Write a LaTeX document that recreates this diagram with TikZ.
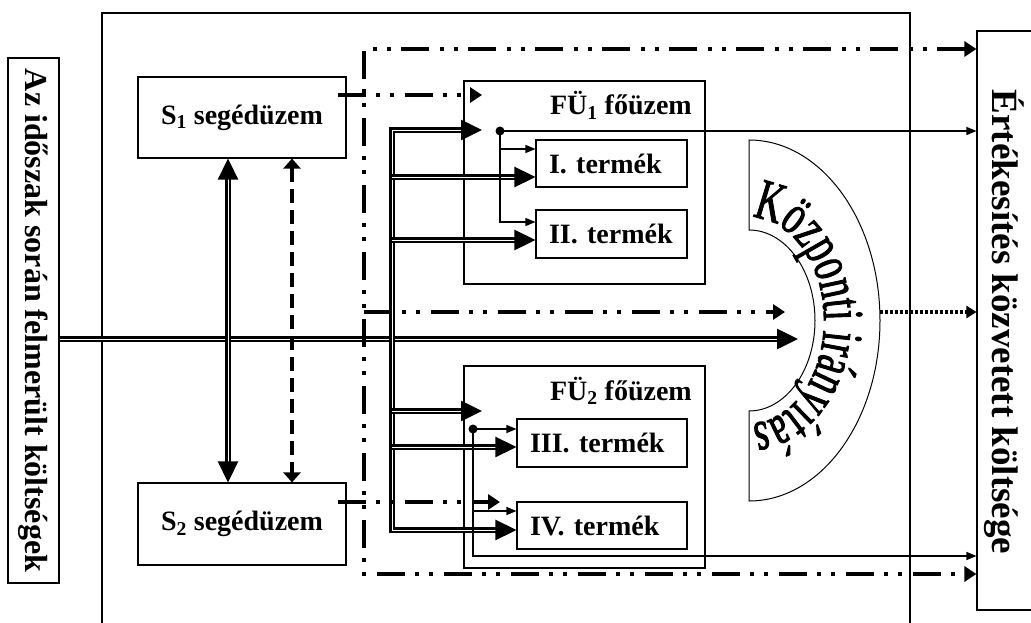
\documentclass[tikz,border=0pt]{standalone}
\usepackage{fontspec}
\setmainfont{Liberation Serif}
\newfontfamily\arcfam[FakeStretch=0.64,FakeBold=1.5]{Liberation Serif}
\usetikzlibrary{arrows.meta,decorations.text,calc}
\newcommand\boxfnt{\bfseries\fontsize{28}{32}\selectfont}
\newcommand\leftfnt{\bfseries\fontsize{32}{36}\selectfont}
\newcommand\rightfnt{\bfseries\fontsize{37}{40}\selectfont}
\newcommand\arcfnt{\arcfam\fontsize{58}{62}\selectfont}
\tikzset{
  BigT/.tip={Triangle[length=21pt,width=20pt]},
  DdT/.tip={Triangle[length=12pt,width=15pt]},
  DshT/.tip={Triangle[length=10pt,width=17pt]},
  SmT/.tip={Triangle[length=10pt,width=8pt]},
  DotT/.tip={Triangle[length=10pt,width=12pt]},
  frame/.style={draw, line width=1.1pt},
  box/.style={draw, line width=1.1pt, inner sep=0pt, font=\boxfnt},
  tbox/.style={box, minimum height=47pt, align=left},
  dbl/.style={line width=2.6pt, double=white, double distance=0.8pt},
  ddot/.style={line width=4pt, dash pattern=on 28pt off 10pt on 4pt off 10pt on 4pt off 11pt},
  dsh/.style={line width=4pt, dash pattern=on 14pt off 7pt},
  dtt/.style={line width=4pt, dash pattern=on 3pt off 2pt},
  thinln/.style={line width=1.3pt},
  jdot/.style={circle, fill, inner sep=0pt, minimum size=9pt},
}
\begin{document}
\begin{tikzpicture}[x=1pt,y=-1pt]
\useasboundingbox (0,0) rectangle (1031,623);
\fill[white] (0,0) rectangle (1031,623);
\clip (0,0) rectangle (1031,623);

% outer frame
\draw[frame] (102,13) rectangle (910,640);

% left box
\node[box, font=\leftfnt, rotate=-90, minimum width=525pt, minimum height=51pt] (lb) at (33.5,320.5) {Az időszak során felmerült költségek};

% right box
\node[frame, minimum width=90pt, minimum height=579pt, inner sep=0pt] (rb) at (1022,320.5) {};
\node[font=\rightfnt, rotate=-90, inner sep=0pt] (rbt) at (1004,322) {Értékesítés közvetett költsége};

% auxiliary plants
\node[box, minimum width=208pt, minimum height=81pt] (s1) at (242,117.5) {S\textsubscript{1} segédüzem};
\node[box, minimum width=208pt, minimum height=82pt] (s2) at (242,524) {S\textsubscript{2} segédüzem};

% main plants
\node[box, minimum width=241pt, minimum height=203pt] (f1) at (584.5,182.5) {};
\node[font=\boxfnt, anchor=base east, inner sep=0pt] (f1t) at (692,115) {FÜ\textsubscript{1} főüzem};
\node[box, minimum width=241pt, minimum height=202pt] (f2) at (584.5,467) {};
\node[font=\boxfnt, anchor=base east, inner sep=0pt] (f2t) at (692,400) {FÜ\textsubscript{2} főüzem};

% products
\node[tbox, minimum width=151pt, text width=125pt] (t1) at (611.5,163.5) {I. termék};
\node[tbox, minimum width=151pt, text width=125pt, minimum height=48pt] (t2) at (611.5,234) {II. termék};
\node[tbox, minimum width=170pt, text width=144pt, minimum height=48pt] (t3) at (602,443) {III. termék};
\node[tbox, minimum width=170pt, text width=144pt] (t4) at (602,525.5) {IV. termék};

% central management arc
\draw[line width=1pt] (749,140) -- (749,230)
  arc[start angle=-90, end angle=90, x radius=66, y radius=90.5]
  -- (749,501)
  arc[start angle=90, end angle=-90, x radius=131, y radius=180.5] -- cycle;
\path[decorate, decoration={text along path, text={|\arcfnt|Központi irányítás}, text align=center}]
  (749,320.5) ++(-95:75 and 103) arc[start angle=-95, end angle=95, x radius=75, y radius=103];
\coordinate (kz) at (880,312);

% coordinates
\coordinate (bt) at (392,130);
\coordinate (bb) at (392,530);
\coordinate (ex) at (364,49);
\coordinate (s1o) at ([xshift=-9pt]s1.east);
\coordinate (s2o) at ([xshift=-9pt]s2.east);

% main cost arrow
\draw[dbl,-BigT] (lb.north |- 0,339) -- (798,339);

% distribution bundle
\draw[dbl,BigT-BigT] (482,130) -- (bt) -- (bb) -- (t4.west |- bb);
\draw[dbl,-BigT] (bt |- 0,177) -- (t1.west |- 0,177);
\draw[dbl,-BigT] (bt |- 0,240) -- (t2.west |- 0,240);
\draw[dbl,-BigT] (bt |- 0,411) -- (482,411);
\draw[dbl,-BigT] (bt |- 0,447) -- (t3.west |- 0,447);

% between S1 and S2
\draw[dbl,BigT-BigT] ([xshift=-14pt]s1.south) -- ([xshift=-14pt]s2.north);
\draw[dsh,DshT-DshT] ([xshift=50pt]s1.south) -- ([xshift=50pt]s2.north);

% dash-dot-dot lines
\draw[ddot,DdT-DdT] (rb.west |- ex) -- (ex) -- (ex |- 0,574) -- (rb.west |- 0,574);
\draw[ddot,-DdT] (ex |- 0,312) -- (785,312);
\draw[ddot,-DdT] (s1o |- 0,95) -- (482,95);
\draw[ddot,-DdT] (s2o |- 0,502) -- (500,502);

% dotted
\draw[dtt,-DotT] (kz) -- (rb.west |- kz);

% thin lines FÜ1
\node[jdot] (d1) at (500,131) {};
\draw[thinln,-SmT] (d1.center) -- (rb.west |- d1);
\draw[thinln,-SmT] (d1.center) |- (t2.west |- 0,222);
\draw[thinln,-SmT] (d1 |- 0,149) -- (t1.west |- 0,149);

% thin lines FÜ2
\node[jdot] (d2) at (473,429) {};
\draw[thinln,-SmT] (d2.center) -- (t3.west |- d2);
\draw[thinln,-SmT] (d2.center) |- (rb.west |- 0,556);
\draw[thinln,-SmT] (d2 |- 0,511) -- (t4.west |- 0,511);
\end{tikzpicture}
\end{document}
